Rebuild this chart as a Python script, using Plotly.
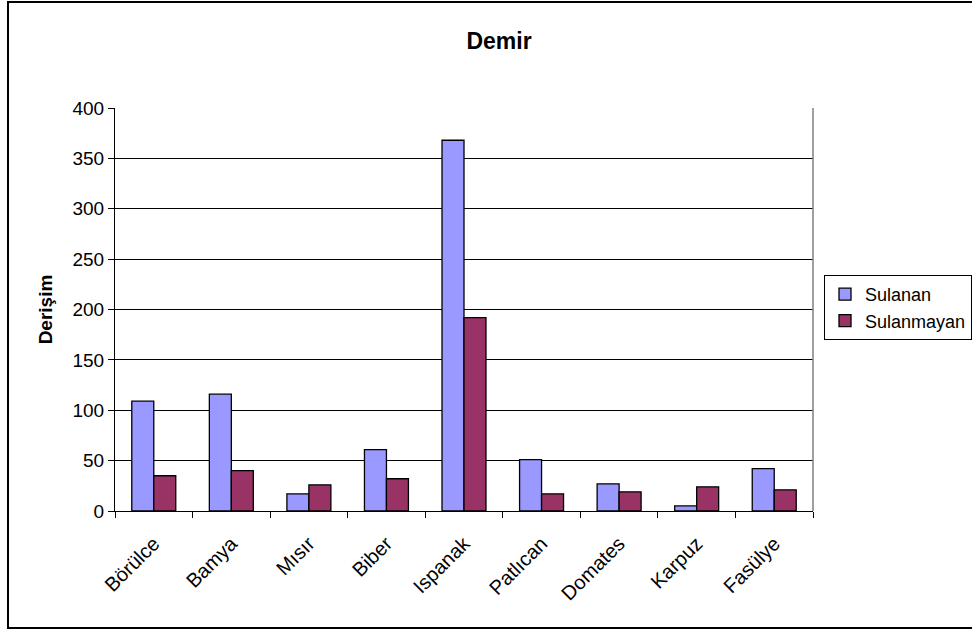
import plotly.graph_objects as go

# Iron concentration by crop, irrigated vs. non-irrigated
categories = ["Börülce", "Bamya", "Mısır", "Biber", "Ispanak",
              "Patlıcan", "Domates", "Karpuz", "Fasülye"]
sulanan = [109, 116, 17, 61, 368, 51, 27, 5, 42]
sulanmayan = [35, 40, 26, 32, 192, 17, 19, 24, 21]
y_ticks = [0, 50, 100, 150, 200, 250, 300, 350, 400]

FONT = "Arial, Liberation Sans, sans-serif"

fig = go.Figure()
fig.add_trace(go.Bar(
    name="Sulanan", x=categories, y=sulanan,
    marker=dict(color="#9999FF", line=dict(color="black", width=1.3)),
))
fig.add_trace(go.Bar(
    name="Sulanmayan", x=categories, y=sulanmayan,
    marker=dict(color="#993366", line=dict(color="black", width=1.3)),
))

fig.update_layout(
    width=972, height=630,
    margin=dict(l=115, r=159, t=108, b=119, autoexpand=False),
    paper_bgcolor="white", plot_bgcolor="white",
    barmode="group", bargap=0.433, bargroupgap=0,
    font=dict(family=FONT, size=19, color="black"),
    title=dict(text="<b>Demir</b>", x=499 / 972, xanchor="center",
               y=1 - 41 / 630, yanchor="middle",
               font=dict(family=FONT, size=23, color="black")),
    showlegend=True,
    legend=dict(
        x=(824 - 115) / 698, xanchor="left",
        y=(511 - 275) / 403, yanchor="top",
        bordercolor="black", borderwidth=1, bgcolor="white",
        font=dict(family=FONT, size=18, color="black"),
        itemwidth=30, tracegroupgap=4,
    ),
    xaxis=dict(
        showline=True, linecolor="black", linewidth=1,
        ticks="outside", ticklen=6, tickcolor="black", tickson="boundaries",
        tickangle=-45, showgrid=False, ticklabelstandoff=12,
        tickfont=dict(family=FONT, size=20, color="black"),
    ),
    yaxis=dict(
        range=[0, 400], tickvals=y_ticks,
        showline=True, linecolor="black", linewidth=1,
        ticks="outside", ticklen=6, tickcolor="black",
        showgrid=True, gridcolor="black", gridwidth=1,
        zeroline=False,
        tickfont=dict(family=FONT, size=19, color="black"),
        title=dict(text="<b>Derişim</b>", standoff=14,
                   font=dict(family=FONT, size=19, color="black")),
    ),
    shapes=[
        # right edge of the plot area
        dict(type="line", xref="paper", yref="paper", x0=1, x1=1, y0=0, y1=1,
             line=dict(color="#808080", width=1.5)),
        # outer chart frame
        dict(type="rect", xref="paper", yref="paper",
             x0=(8 - 115) / 698, x1=(990 - 115) / 698,
             y0=(511 - 628) / 403, y1=(511 - 2) / 403,
             line=dict(color="black", width=2), fillcolor="rgba(0,0,0,0)",
             layer="above"),
    ],
)

fig.write_html("out.html")
